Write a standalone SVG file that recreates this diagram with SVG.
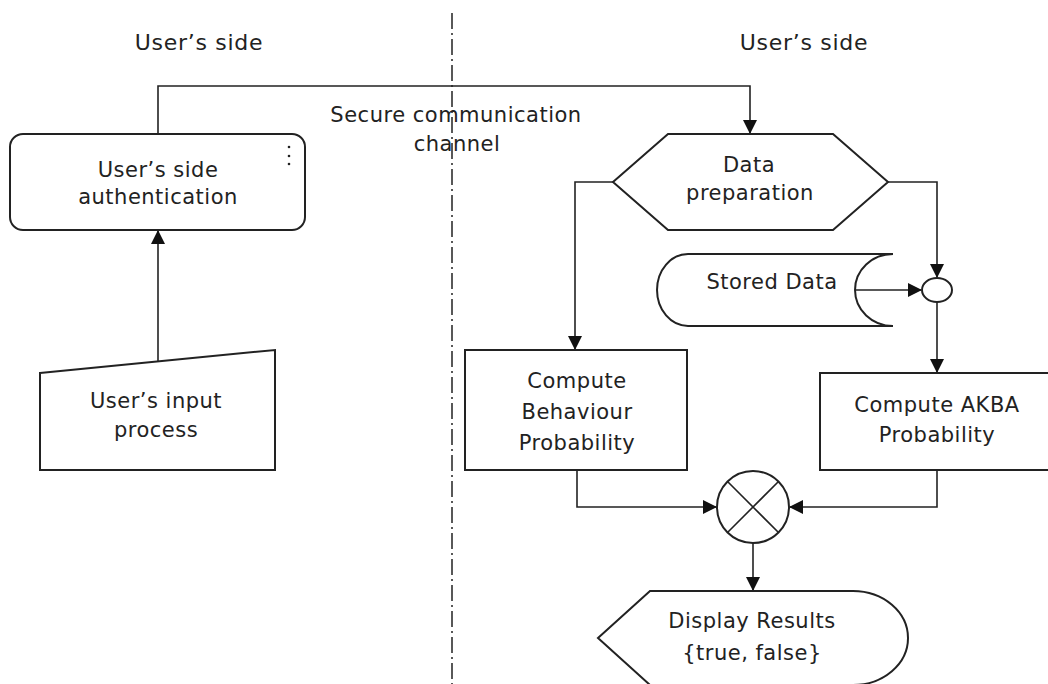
<svg xmlns="http://www.w3.org/2000/svg" width="1048" height="684" viewBox="0 0 1048 684">
<defs>
<style>
text{font-family:"DejaVu Sans","Liberation Sans",sans-serif;font-size:21px;fill:#222;text-anchor:middle;letter-spacing:0.5px}
.head{font-size:22px;letter-spacing:0.7px}
.shape{fill:#fff;stroke:#222;stroke-width:2}
.conn{fill:none;stroke:#222;stroke-width:1.6}
.lane{fill:none;stroke:#222;stroke-width:1.5;stroke-dasharray:16 4 2 4}
</style>
<marker id="arr" viewBox="0 0 14 14" refX="13" refY="7" markerWidth="14" markerHeight="14" markerUnits="userSpaceOnUse" orient="auto">
<path d="M0,0 L14,7 L0,14 Z" fill="#111"/>
</marker>
</defs>
<rect width="1048" height="684" fill="#fff"/>

<g id="labels">
<text class="head" x="199" y="50">User’s side</text>
<text class="head" x="804" y="50">User’s side</text>
<text x="456" y="122">Secure communication</text>
<text x="457" y="151">channel</text>
</g>

<line class="lane" x1="452" y1="13" x2="452" y2="684"/>

<g id="connectors">
<path class="conn" d="M158 134 V86 H750 V133" marker-end="url(#arr)"/>
<path class="conn" d="M158 361 V231" marker-end="url(#arr)" stroke="#444" stroke-width="2"/>
<path class="conn" d="M613 182 H575 V349" marker-end="url(#arr)"/>
<path class="conn" d="M888 182 H937 V277" marker-end="url(#arr)"/>
<path class="conn" d="M855 290 H921" marker-end="url(#arr)"/>
<path class="conn" d="M937 302 V372" marker-end="url(#arr)"/>
<path class="conn" d="M577 470 V507 H716" marker-end="url(#arr)"/>
<path class="conn" d="M937 470 V507 H790" marker-end="url(#arr)"/>
<path class="conn" d="M753 543 V590" marker-end="url(#arr)"/>
</g>

<g id="auth">
<rect class="shape" x="10" y="134" width="295" height="96" rx="13"/>
<circle cx="289" cy="147" r="1.3" fill="#222"/>
<circle cx="289" cy="156" r="1.3" fill="#222"/>
<circle cx="289" cy="164" r="1.3" fill="#222"/>
<text x="158" y="177">User’s side</text>
<text x="158" y="204">authentication</text>
</g>

<g id="input">
<path class="shape" d="M40 373 L275 350 L275 470 L40 470 Z"/>
<text x="156" y="408">User’s input</text>
<text x="156" y="437">process</text>
</g>

<g id="dataprep">
<path class="shape" d="M613 182 L668 134 L833 134 L888 182 L833 230 L668 230 Z"/>
<text x="749" y="172">Data</text>
<text x="750" y="200">preparation</text>
</g>

<g id="stored">
<path class="shape" d="M688 254 L893 254 A38 36 0 0 0 893 326 L688 326 A31 36 0 0 1 688 254 Z"/>
<text x="772" y="289">Stored Data</text>
</g>

<g id="join">
<ellipse class="shape" cx="937" cy="290" rx="15" ry="12"/>
</g>

<g id="behaviour">
<rect class="shape" x="465" y="350" width="222" height="120"/>
<text x="577" y="388">Compute</text>
<text x="577" y="419">Behaviour</text>
<text x="577" y="450">Probability</text>
</g>

<g id="akba">
<rect class="shape" x="820" y="373" width="236" height="97"/>
<text x="937" y="412">Compute AKBA</text>
<text x="937" y="442">Probability</text>
</g>

<g id="combine">
<circle class="shape" cx="753" cy="507" r="36"/>
<path class="conn" d="M727.5 481.5 L778.5 532.5 M778.5 481.5 L727.5 532.5"/>
</g>

<g id="display">
<path class="shape" d="M598 638 L650 591 L853 591 A55 47 0 0 1 853 685 L650 685 Z"/>
<text x="752" y="628">Display Results</text>
<text x="752" y="660">{true, false}</text>
</g>
</svg>
